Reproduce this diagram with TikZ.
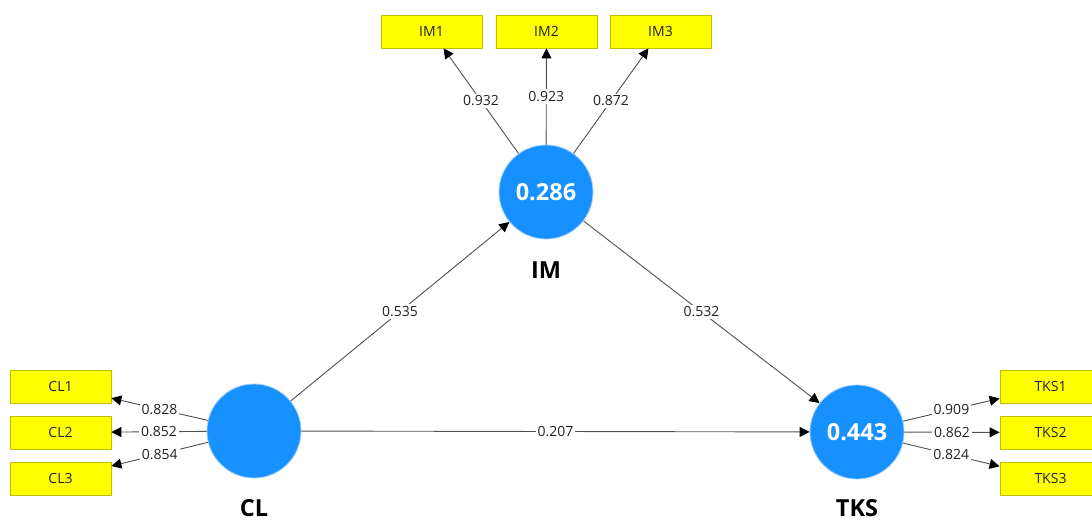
\documentclass[tikz,border=0pt]{standalone}
\usepackage{fontspec}
\setmainfont{Open Sans}
\usetikzlibrary{arrows.meta}
\definecolor{lvblue}{RGB}{22,145,255}
\definecolor{lvring}{RGB}{160,205,255}
\definecolor{indfill}{RGB}{255,255,0}
\definecolor{indedge}{RGB}{190,190,0}
\definecolor{conn}{RGB}{80,80,80}
\definecolor{txt}{RGB}{35,35,35}
\tikzset{
  latent/.style={circle, fill=lvblue, draw=lvring, line width=0.8pt, minimum size=94pt, inner sep=0pt,
    text=white, font=\fontsize{23.5}{26}\selectfont\bfseries},
  lvname/.style={font=\fontsize{23.5}{26}\selectfont\bfseries, text=black},
  indbox/.style={rectangle, fill=indfill, draw=indedge, line width=0.8pt, minimum width=101pt, minimum height=33pt,
    inner sep=0pt, text=txt, font=\fontsize{14}{16}\selectfont},
  conline/.style={draw=conn, line width=0.9pt, -{Triangle[length=10pt,width=10pt,color=black]}},
  wlab/.style={fill=white, inner sep=2pt, text=txt, font=\fontsize{14}{16}\selectfont}
}
\begin{document}
\begin{tikzpicture}[x=1pt,y=-1pt]
\useasboundingbox (0,0) rectangle (1092,521);
\clip (0,0) rectangle (1092,521);
\fill[white] (0,0) rectangle (1092,521);
% latent variables
\node[latent] (IM) at (546,192) {0.286};
\node[latent] (CL) at (254,431) {};
\node[latent] (TKS) at (857,432) {0.443};
\node[lvname] (IMn) at (546,270) {IM};
\node[lvname] (CLn) at (254,508) {CL};
\node[lvname] (TKSn) at (857,508) {TKS};
% indicators
\node[indbox] (IM1) at (431.5,31.5) {IM1};
\node[indbox] (IM2) at (546.5,31.5) {IM2};
\node[indbox] (IM3) at (660.5,31.5) {IM3};
\node[indbox] (CL1) at (60.5,386.5) {CL1};
\node[indbox] (CL2) at (60.5,432.5) {CL2};
\node[indbox] (CL3) at (60.5,478.5) {CL3};
\node[indbox] (TKS1) at (1050.5,386.5) {TKS1};
\node[indbox] (TKS2) at (1050.5,432.5) {TKS2};
\node[indbox] (TKS3) at (1050.5,478.5) {TKS3};
% outer loadings
\draw[conline] (IM) -- node[wlab]{0.932} (IM1);
\draw[conline] (IM) -- node[wlab]{0.923} (IM2);
\draw[conline] (IM) -- node[wlab]{0.872} (IM3);
\draw[conline] (CL) -- node[wlab]{0.828} (CL1);
\draw[conline] (CL) -- node[wlab]{0.852} (CL2);
\draw[conline] (CL) -- node[wlab]{0.854} (CL3);
\draw[conline] (TKS) -- node[wlab]{0.909} (TKS1);
\draw[conline] (TKS) -- node[wlab]{0.862} (TKS2);
\draw[conline] (TKS) -- node[wlab]{0.824} (TKS3);
% path coefficients
\draw[conline] (CL) -- node[wlab]{0.535} (IM);
\draw[conline] (IM) -- node[wlab]{0.532} (TKS);
\draw[conline] (CL) -- node[wlab]{0.207} (TKS);
\end{tikzpicture}
\end{document}
